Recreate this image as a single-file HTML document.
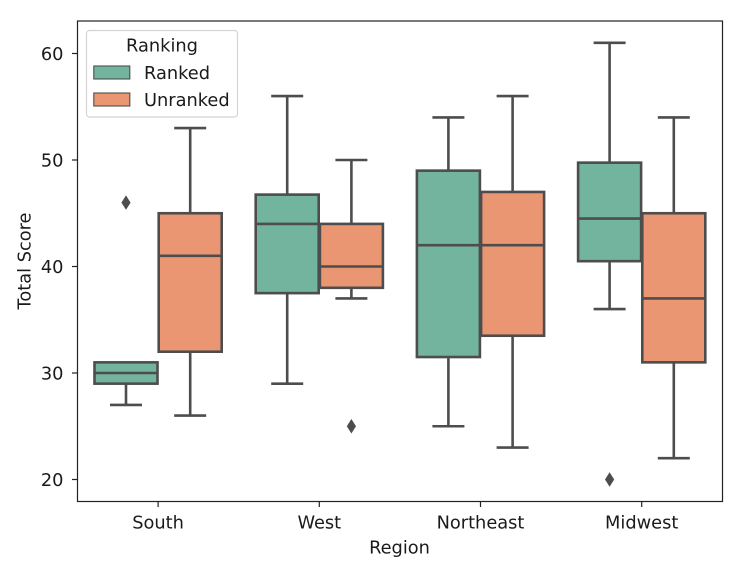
<!DOCTYPE html>
<html>
<head>
<meta charset="utf-8">
<style>
html,body{margin:0;padding:0;background:#fff;}
svg{display:block;}
text{font-family:"DejaVu Sans","Liberation Sans",sans-serif;fill:#1a1a1a;}
</style>
</head>
<body>
<svg id="chart" width="744" height="570" viewBox="0 0 744 570" xmlns="http://www.w3.org/2000/svg"></svg>
<script>
const regions = ['South', 'West', 'Northeast', 'Midwest'];
const seriesNames = ['Ranked', 'Unranked'];
const seriesColors = ['#73b49f', '#ea9672'];
const yTicks = [20, 30, 40, 50, 60];
// each: [whisker low, q1, median, q3, whisker high]
const rankedStats = [
  [27, 29, 30, 31, 31],
  [29, 37.5, 44, 46.75, 56],
  [25, 31.5, 42, 49, 54],
  [36, 40.5, 44.5, 49.75, 61]
];
const unrankedStats = [
  [26, 32, 41, 45, 53],
  [37, 38, 40, 44, 50],
  [23, 33.5, 42, 47, 56],
  [22, 31, 37, 45, 54]
];
const rankedOutliers = [[46], [], [], [20]];
const unrankedOutliers = [[], [25], [], []];

const NS = 'http://www.w3.org/2000/svg';
const svg = document.getElementById('chart');
const plot = {left: 77.5, right: 722.5, top: 21, bottom: 501.5};
const bandStart = 77.5, bandStep = 161.2;
const boxW = 64.2, capW = 32;
const lineColor = '#4d4d4d';
const fontSize = 17.8;

function yScale(v) { return 479.5 - (v - 20) * 10.65; }
function xScale(i) { return bandStart + bandStep * (i + 0.5); }
function add(tag, attrs, parent) {
  const el = document.createElementNS(NS, tag);
  for (const k in attrs) el.setAttribute(k, attrs[k]);
  (parent || svg).appendChild(el);
  return el;
}
function label(x, y, str, size, anchor, parent) {
  const t = add('text', {x: x, y: y, 'font-size': size, 'text-anchor': anchor}, parent);
  t.textContent = str;
  return t;
}

const frame = add('rect', {x: plot.left, y: plot.top, width: plot.right - plot.left, height: plot.bottom - plot.top, fill: 'none', stroke: '#222', 'stroke-width': 1.2});



yTicks.forEach(function (v) {
  const g = add('g', {});
  
  
  add('line', {x1: plot.left - 5.5, x2: plot.left, y1: yScale(v), y2: yScale(v), stroke: '#222', 'stroke-width': 1.2}, g);
  label(plot.left - 14, yScale(v) + 6.7, String(v), fontSize, 'end', g);
});

regions.forEach(function (r, i) {
  const g = add('g', {});
  
  
  add('line', {x1: xScale(i), x2: xScale(i), y1: plot.bottom, y2: plot.bottom + 5.5, stroke: '#222', 'stroke-width': 1.2}, g);
  label(xScale(i), 528.3, r, fontSize, 'middle', g);
});

function drawBox(stats, outliers, groupIdx, seriesIdx) {
  const cx = xScale(groupIdx) + (seriesIdx === 0 ? -boxW / 2 : boxW / 2);
  const g = add('g', {fill: 'none', stroke: lineColor, 'stroke-width': 2.6});
  
  
  const lo = stats[0], q1 = stats[1], med = stats[2], q3 = stats[3], hi = stats[4];
  add('line', {x1: cx, x2: cx, y1: yScale(q1), y2: yScale(lo)}, g);
  add('line', {x1: cx, x2: cx, y1: yScale(q3), y2: yScale(hi)}, g);
  add('line', {x1: cx - capW / 2, x2: cx + capW / 2, y1: yScale(lo), y2: yScale(lo)}, g);
  if (hi !== q3) add('line', {x1: cx - capW / 2, x2: cx + capW / 2, y1: yScale(hi), y2: yScale(hi)}, g);
  add('rect', {x: cx - boxW / 2 + 0.6, y: yScale(q3), width: boxW - 1.2, height: yScale(q1) - yScale(q3), fill: seriesColors[seriesIdx]}, g);
  add('line', {x1: cx - boxW / 2 + 0.6, x2: cx + boxW / 2 - 0.6, y1: yScale(med), y2: yScale(med)}, g);
  outliers.forEach(function (o) {
    const y = yScale(o);
    add('polygon', {points: [cx, y - 7.2, cx + 4.6, y, cx, y + 7.2, cx - 4.6, y].join(' '), fill: lineColor, stroke: 'none'}, g);
  });
}
regions.forEach(function (r, i) {
  drawBox(rankedStats[i], rankedOutliers[i], i, 0);
  drawBox(unrankedStats[i], unrankedOutliers[i], i, 1);
});

const xTitle = label(399.5, 553.5, 'Region', fontSize, 'middle');



const yTitle = label(0, 0, 'Total Score', fontSize, 'middle');
yTitle.setAttribute('transform', 'translate(30.5 261) rotate(-90)');



const legend = add('g', {});


add('rect', {x: 86.5, y: 30.5, width: 151, height: 86.5, rx: 3, fill: '#fff', stroke: '#d4d4d4', 'stroke-width': 1.2}, legend);
label(162, 51.5, 'Ranking', fontSize, 'middle', legend);
seriesNames.forEach(function (name, i) {
  const g = add('g', {}, legend);
  
  
  const top = 66 + i * 27;
  add('rect', {x: 93.8, y: top, width: 36, height: 13, fill: seriesColors[i], stroke: lineColor, 'stroke-width': 1.1}, g);
  label(144, top + 13, name, fontSize, 'start', g);
});
</script>
</body>
</html>
